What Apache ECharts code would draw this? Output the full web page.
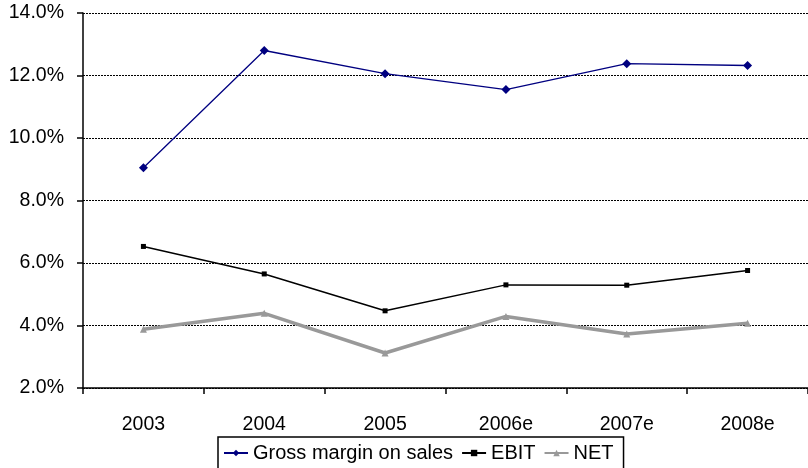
<!DOCTYPE html>
<html><head><meta charset="utf-8">
<script src="https://cdn.jsdelivr.net/npm/echarts@6/dist/echarts.min.js"></script>
<style>html,body{margin:0;padding:0;background:#fff}#c{width:808px;height:468px}</style>
</head><body><div id="c"></div>
<script>
const categories = ['2003','2004','2005','2006e','2007e','2008e'];
const grossMargin = [9.05, 12.8, 12.06, 11.55, 12.38, 12.32];
const ebit = [6.53, 5.65, 4.47, 5.3, 5.29, 5.76];
const net = [3.88, 4.39, 3.12, 4.29, 3.73, 4.07];
const yTicks = {min: 2, max: 14, interval: 2};

const chart = echarts.init(document.getElementById('c'), null, {renderer: 'canvas'});
const font = 'Liberation Sans, Arial, sans-serif';
chart.setOption({
  animation: false,
  backgroundColor: '#fff',
  textStyle: {fontFamily: font},
  grid: {left: 83, right: 0, top: 13, bottom: 80, containLabel: false},
  xAxis: {
    type: 'category', data: categories, boundaryGap: true,
    axisLine: {lineStyle: {color: '#000', width: 1.5}},
    axisTick: {show: true, inside: false, length: 6, lineStyle: {color: '#000', width: 1.5}},
    axisLabel: {color: '#000', fontSize: 19.5, fontFamily: font, margin: 27},
    splitLine: {show: false}
  },
  yAxis: {
    type: 'value', min: yTicks.min, max: yTicks.max, interval: yTicks.interval,
    axisLine: {show: true, lineStyle: {color: '#000', width: 1.5}},
    axisTick: {show: true, length: 6, lineStyle: {color: '#000', width: 1.5}},
    axisLabel: {color: '#000', fontSize: 19.5, fontFamily: font, margin: 19, formatter: v => v.toFixed(1) + '%'},
    splitLine: {show: true, lineStyle: {color: '#000', type: [2, 1], width: 1}}
  },
  legend: {
    top: 437, left: 218,
    borderColor: '#000', borderWidth: 1.5, padding: [6, 10, 6, 5],
    itemWidth: 24, itemHeight: 8, itemGap: 8,
    textStyle: {color: '#000', fontSize: 20, fontFamily: font},
    data: ['Gross margin on sales', 'EBIT', 'NET']
  },
  series: [
    {name: 'Gross margin on sales', type: 'line', data: grossMargin,
     symbol: 'diamond', symbolSize: 9, color: '#000080',
     lineStyle: {color: '#000080', width: 1.3}, itemStyle: {color: '#000080'}},
    {name: 'EBIT', type: 'line', data: ebit,
     symbol: 'rect', symbolSize: 5, color: '#000',
     lineStyle: {color: '#000', width: 1.5}, itemStyle: {color: '#000'}},
    {name: 'NET', type: 'line', data: net,
     symbol: 'triangle', symbolSize: 7, color: '#999999',
     lineStyle: {color: '#999999', width: 3.5}, itemStyle: {color: '#999999'}}
  ]
});
</script></body></html>
